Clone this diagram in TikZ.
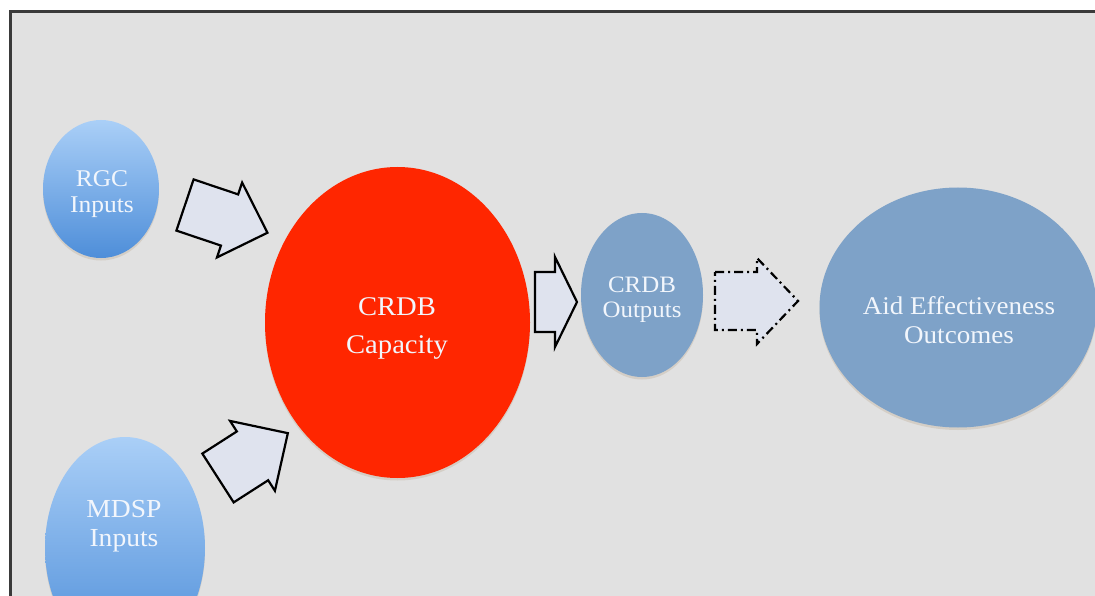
\documentclass[tikz,border=0pt]{standalone}
\usepackage{fontspec}
\setmainfont[FakeStretch=1.06]{Liberation Serif}
\usetikzlibrary{shapes.geometric,shadows}
\definecolor{bg}{HTML}{E1E1E1}
\definecolor{framec}{HTML}{3A3A3A}
\definecolor{capred}{HTML}{FF2600}
\definecolor{steel}{HTML}{7EA2C8}
\definecolor{bluetop}{HTML}{AACFF7}
\definecolor{bluebot}{HTML}{4E8ED9}
\definecolor{arrowfill}{HTML}{DFE3EE}
\definecolor{txtc}{HTML}{F2F6FC}
\definecolor{shadowc}{HTML}{CFC6BB}
% #1 options, #2 tail centre, #3 angle, #4 shaft length, #5 shaft half width, #6 head length, #7 head half width
\newcommand{\blockarr}[7]{%
  \draw[blockarrow,#1,shift={#2},rotate=#3]
    (0,-#5) -- (#4,-#5) -- (#4,-#7) -- (#4+#6,0) -- (#4,#7) -- (#4,#5) -- (0,#5) -- cycle;}
\begin{document}
\begin{tikzpicture}[x=1pt,y=-1pt,
  bubble/.style={ellipse, inner sep=0pt, draw=none,
    drop shadow={shadow xshift=0pt, shadow yshift=-2.5pt, fill=shadowc, opacity=0.7}},
  bluebubble/.style={bubble, top color=bluetop, bottom color=bluebot},
  steelbubble/.style={bubble, fill=steel},
  redbubble/.style={bubble, fill=capred},
  btext/.style={text=txtc, align=center, inner sep=0pt},
  blockarrow/.style={draw=black, line width=2.2pt, fill=arrowfill, line join=miter},
  dashdotarrow/.style={dash pattern=on 9pt off 4pt on 2pt off 4pt},
]
\useasboundingbox (0,0) rectangle (1095,596);
\fill[white] (0,0) rectangle (1095,596);
\fill[bg] (10,12) rectangle (1100,600);
\draw[framec, line width=3pt] (10,600) -- (10,12) -- (1100,12);

% bubbles
\node[bluebubble, minimum width=116pt, minimum height=138pt] (rgc) at (101,189) {};
\node[bluebubble, minimum width=160pt, minimum height=222pt] (mdsp) at (125,548) {};
\node[redbubble, minimum width=265pt, minimum height=311pt] (cap) at (397.5,322.5) {};
\node[steelbubble, minimum width=122pt, minimum height=164pt] (out) at (642,295) {};
\node[steelbubble, minimum width=277pt, minimum height=240pt] (aid) at (958,307.5) {};

% texts
\node[btext, font=\fontsize{24}{25.5}\selectfont] (rgcT) at (102,194) {RGC\\Inputs};
\node[btext, font=\fontsize{26}{29}\selectfont] (mdspT) at (124,526) {MDSP\\Inputs};
\node[btext, font=\fontsize{27}{38}\selectfont] (capT) at (397,328) {CRDB\\Capacity};
\node[btext, font=\fontsize{23.5}{25}\selectfont] (outT) at (642,300) {CRDB\\Outputs};
\node[btext, font=\fontsize{25.5}{29}\selectfont] (aidT) at (959,320) {Aid Effectiveness\\Outcomes};

% block arrows
\blockarr{}{(185,205)}{-18.6}{47}{27}{40}{39.5}
\blockarr{}{(218,478)}{32.7}{41}{29}{42}{41.5}
\blockarr{}{(535,302)}{0}{20}{30}{22}{45}
\blockarr{dashdotarrow}{(715,301)}{0}{42}{29}{41}{43}
\end{tikzpicture}
\end{document}
